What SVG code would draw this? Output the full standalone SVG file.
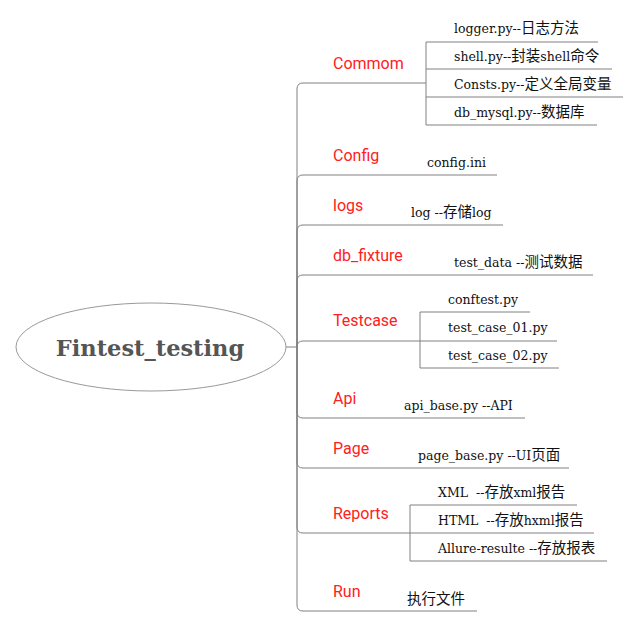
<svg xmlns="http://www.w3.org/2000/svg" width="639" height="627" viewBox="0 0 639 627">
<style>
.cat{font-family:Roboto,"Noto Sans CJK SC",sans-serif;font-size:16px;fill:#ff2020}
.sub{font-family:"DejaVu Serif","Noto Sans CJK SC",serif;font-size:12.5px;fill:#111;white-space:pre}
.cj{font-family:"Noto Sans CJK SC",sans-serif;font-size:14.5px;fill:#111}
.ln{fill:none;stroke:#808080;stroke-width:1}
</style>
<rect width="639" height="627" fill="#fff"/>
<g id="connectors" class="ln">
<path d="M286,347 H297"/>
<path d="M297,347 V89 Q297,83 303,83 H426"/>
<path d="M297,347 V181 Q297,175 303,175 H497"/>
<path d="M297,347 V231 Q297,225 303,225 H503"/>
<path d="M297,347 V281 Q297,275 303,275 H593"/>
<path d="M297,347 Q297,341 303,341 H420"/>
<path d="M297,347 V412 Q297,418 303,418 H525"/>
<path d="M297,347 V462 Q297,468 303,468 H569"/>
<path d="M297,347 V527 Q297,533 303,533 H410"/>
<path d="M297,347 V605 Q297,611 303,611 H477"/>
<path d="M426,42 V125"/>
<path d="M426,42 H598 M426,69 H612 M426,97 H623 M426,125 H597"/>
<path d="M420,312 V368"/>
<path d="M420,312 H530 M420,341 H557 M420,368 H559"/>
<path d="M410,505 V561"/>
<path d="M410,505 H577 M410,533 H594 M410,561 H607"/>
</g>
<g id="root">
<ellipse cx="151" cy="347" rx="135" ry="44" fill="#fff" stroke="#999"/>
<text x="150" y="356" text-anchor="middle" style="font-family:'DejaVu Serif',serif;font-weight:bold;font-size:22.5px;fill:#555">Fintest_testing</text>
</g>
<g id="commom">
<text class="cat" x="333" y="69">Commom</text>
<text class="sub" x="454" y="33">logger.py--<tspan class="cj">日志方法</tspan></text>
<text class="sub" x="454" y="61">shell.py--<tspan class="cj">封装</tspan>shell<tspan class="cj">命令</tspan></text>
<text class="sub" x="454" y="89">Consts.py--<tspan class="cj">定义全局变量</tspan></text>
<text class="sub" x="454" y="117">db_mysql.py--<tspan class="cj">数据库</tspan></text>
</g>
<g id="config">
<text class="cat" x="333" y="161">Config</text>
<text class="sub" x="427" y="167">config.ini</text>
</g>
<g id="logs">
<text class="cat" x="333" y="211">logs</text>
<text class="sub" x="411" y="217">log --<tspan class="cj">存储</tspan>log</text>
</g>
<g id="db_fixture">
<text class="cat" x="333" y="261">db_fixture</text>
<text class="sub" x="454" y="267">test_data --<tspan class="cj">测试数据</tspan></text>
</g>
<g id="testcase">
<text class="cat" x="333" y="326">Testcase</text>
<text class="sub" x="448" y="304">conftest.py</text>
<text class="sub" x="448" y="332">test_case_01.py</text>
<text class="sub" x="448" y="360">test_case_02.py</text>
</g>
<g id="api">
<text class="cat" x="333" y="404">Api</text>
<text class="sub" x="404" y="410">api_base.py --API</text>
</g>
<g id="page">
<text class="cat" x="333" y="454">Page</text>
<text class="sub" x="418" y="460">page_base.py --UI<tspan class="cj">页面</tspan></text>
</g>
<g id="reports">
<text class="cat" x="333" y="519">Reports</text>
<text class="sub" x="438" y="497">XML  --<tspan class="cj">存放</tspan>xml<tspan class="cj">报告</tspan></text>
<text class="sub" x="438" y="525">HTML  --<tspan class="cj">存放</tspan>hxml<tspan class="cj">报告</tspan></text>
<text class="sub" x="438" y="553">Allure-resulte --<tspan class="cj">存放报表</tspan></text>
</g>
<g id="run">
<text class="cat" x="333" y="597">Run</text>
<text class="sub" x="407" y="604"><tspan class="cj">执行文件</tspan></text>
</g>
</svg>
